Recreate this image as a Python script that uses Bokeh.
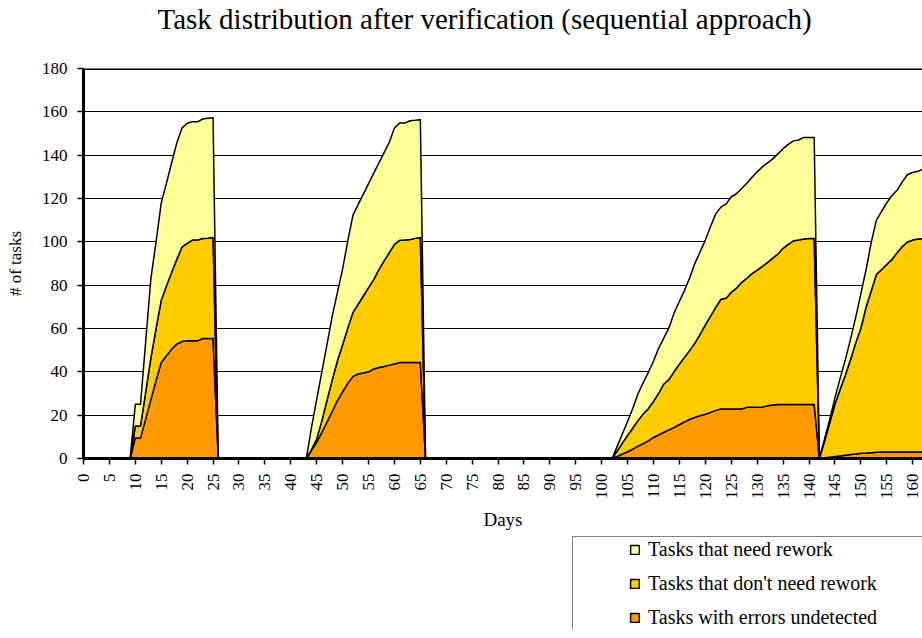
from math import pi
from bokeh.plotting import figure
from bokeh.layouts import column
from bokeh.models import (Range1d, Legend, LegendItem, SingleIntervalTicker, Span,
                          Title)
from bokeh.embed import file_html
from bokeh.resources import INLINE

# ---------------- data (days 0..162) ----------------
days = list(range(0, 163))

undetected = [
    0, 0, 0, 0, 0, 0, 0, 0, 0, 0,
    9.5, 9.5, 18.3, 27.2, 36, 44.3, 47.4, 50.5, 52.8, 54,
    54.3, 54.3, 54.3, 55.4, 55.4, 55.4, 0, 0, 0, 0,
    0, 0, 0, 0, 0, 0, 0, 0, 0, 0,
    0, 0, 0, 0, 3.9, 7.5, 12.1, 16.9, 21.8, 26.7,
    30.8, 34.7, 37.9, 39, 39.5, 40, 41.3, 42, 42.5, 43.1,
    43.6, 44.3, 44.3, 44.3, 44.3, 44.3, 0, 0, 0, 0,
    0, 0, 0, 0, 0, 0, 0, 0, 0, 0,
    0, 0, 0, 0, 0, 0, 0, 0, 0, 0,
    0, 0, 0, 0, 0, 0, 0, 0, 0, 0,
    0, 0, 0, 1, 2.1, 3.1, 4.3, 5.7, 6.9, 8.1,
    9.7, 10.9, 12.1, 13.2, 14.4, 15.7, 16.9, 18.1, 19, 19.8,
    20.4, 21.3, 22.2, 22.9, 22.9, 22.9, 22.9, 22.9, 23.6, 23.6,
    23.6, 23.7, 24.4, 24.7, 24.9, 24.9, 24.9, 24.9, 24.9, 24.9,
    24.9, 24.9, 0, 0.3, 0.6, 0.9, 1.2, 1.5, 1.8, 2.1,
    2.4, 2.5, 2.7, 2.9, 3, 3, 3, 3, 3, 3,
    3, 3, 3,
]

no_rework = [
    0, 0, 0, 0, 0, 0, 0, 0, 0, 0,
    5.5, 5.5, 12.5, 19.2, 24, 28.7, 32.2, 35.3, 39.1, 43.6,
    45, 46.5, 46.5, 46.1, 46.3, 46.6, 0, 0, 0, 0,
    0, 0, 0, 0, 0, 0, 0, 0, 0, 0,
    0, 0, 0, 0, 0.2, 1.5, 5.4, 10.1, 14.4, 18.4,
    21.7, 25.5, 29.5, 32.2, 35.5, 38.9, 41.3, 45.2, 48.7, 51.9,
    55.2, 56.4, 56.5, 56.8, 57.3, 57.7, 0, 0, 0, 0,
    0, 0, 0, 0, 0, 0, 0, 0, 0, 0,
    0, 0, 0, 0, 0, 0, 0, 0, 0, 0,
    0, 0, 0, 0, 0, 0, 0, 0, 0, 0,
    0, 0, 0, 2.5, 5.1, 7.6, 9.8, 11.8, 13.7, 14.9,
    16.7, 19.3, 22.3, 23.3, 25.8, 27.9, 29.9, 31.8, 34.4, 37.6,
    41.3, 44.4, 47.5, 50.6, 51.1, 53.8, 55.7, 58.4, 59.6, 61.7,
    63.3, 65, 66.1, 67.8, 69.5, 72.1, 73.9, 75.6, 75.9, 76.4,
    76.6, 76.6, 0, 7.7, 15.9, 24.1, 30.7, 36.9, 43.8, 51.2,
    57.6, 67.3, 74.6, 82, 84.2, 86.5, 88.8, 92, 94.8, 96.9,
    97.8, 98.3, 98.5,
]

rework = [
    0, 0, 0, 0, 0, 0, 0, 0, 0, 0,
    10, 10, 23.2, 36.6, 40, 45, 47.4, 50.6, 53.7, 54.9,
    55.4, 54.6, 54.6, 55.2, 55.3, 55.3, 0, 0, 0, 0,
    0, 0, 0, 0, 0, 0, 0, 0, 0, 0,
    0, 0, 0, 0, 10.3, 18.3, 22.5, 25.8, 29.5, 31.6,
    35, 40.2, 44.9, 46.1, 47, 48, 49.1, 49.2, 50, 50.9,
    53.7, 54.1, 54, 54.8, 54.5, 54.4, 0, 0, 0, 0,
    0, 0, 0, 0, 0, 0, 0, 0, 0, 0,
    0, 0, 0, 0, 0, 0, 0, 0, 0, 0,
    0, 0, 0, 0, 0, 0, 0, 0, 0, 0,
    0, 0, 0, 2.2, 4.2, 6.5, 9.1, 12.4, 14.4, 16.8,
    18.6, 20.8, 21.3, 24, 27.2, 29, 30.9, 33.6, 36.8, 38,
    39.1, 41.4, 43.2, 42.5, 43.4, 44.1, 43.6, 43.3, 43.8, 44.5,
    45.4, 45.9, 45.9, 45.8, 46.2, 46, 46.2, 46.1, 46.2, 46.9,
    46.7, 46.7, 0, 1, 1.5, 3, 5.1, 7.1, 9.4, 11.7,
    16, 17.2, 22.3, 25.1, 26.8, 28.5, 29.6, 28.8, 29.9, 31.2,
    31.2, 31.3, 31.9,
]

series_names = ["Tasks with errors undetected",
                "Tasks that don't need rework",
                "Tasks that need rework"]
series_values = [undetected, no_rework, rework]
series_colors = ["#FF9900", "#FFCC00", "#FFFF99"]

title_text = "Task distribution after verification (sequential approach)"
x_label = "Days"
y_label = "# of tasks"

SERIF = "Liberation Serif"


def stacked_polygons():
    """Closed polygons (x list, y list) for each stacked layer."""
    polys = []
    lower = [0.0] * len(days)
    for vals in series_values:
        upper = [a + b for a, b in zip(lower, vals)]
        polys.append((days + days[::-1], upper + lower[::-1]))
        lower = upper
    return polys


# ---------------- main chart ----------------
p = figure(width=922, height=533, output_backend="svg", toolbar_location=None,
           title=None,
           x_range=Range1d(0, 161.9), y_range=Range1d(0, 180),
           min_border_left=83, min_border_right=0, min_border_top=67,
           min_border_bottom=75)

# spacer between plot area and title, then the title itself
p.add_layout(Title(text=" ", text_font_size="12px", standoff=13.5), "above")
p.add_layout(Title(text=title_text, text_font=SERIF, text_font_size="29px",
                   text_font_style="normal", text_color="black",
                   align="left", offset=74, vertical_align="top", standoff=4),
             "above")

p.background_fill_color = "white"
p.border_fill_color = "white"
p.outline_line_color = None

for (xs, ys), color in zip(stacked_polygons(), series_colors):
    p.patch(xs, ys, fill_color=color, line_color="black", line_width=1.5,
            line_join="round")

# top border of the plot area
p.add_layout(Span(location=180, dimension="width", line_color="black",
                  line_width=3))

# grid
p.xgrid.visible = False
p.ygrid.grid_line_color = "black"
p.ygrid.grid_line_width = 1
p.ygrid.level = "underlay"

# axes
p.xaxis.ticker = SingleIntervalTicker(interval=5, num_minor_ticks=0)
p.yaxis.ticker = SingleIntervalTicker(interval=20, num_minor_ticks=0)
p.xaxis.major_label_orientation = pi / 2
for ax in (p.xaxis, p.yaxis):
    ax.axis_line_color = "black"
    ax.axis_line_width = 3
    ax.major_tick_line_color = "black"
    ax.major_tick_line_width = 1.5
    ax.major_tick_out = 6
    ax.major_tick_in = 0
    ax.minor_tick_line_color = None
    ax.major_label_text_font = SERIF
    ax.major_label_text_font_size = "17px"
    ax.major_label_text_color = "black"
    ax.axis_label_text_font = SERIF
    ax.axis_label_text_font_style = "normal"
    ax.axis_label_text_color = "black"
p.xaxis.major_label_standoff = 9
p.yaxis.major_label_standoff = 10
p.xaxis.axis_label = x_label
p.xaxis.axis_label_text_font_size = "19px"
p.xaxis.axis_label_standoff = 7
p.yaxis.axis_label = y_label
p.yaxis.axis_label_text_font_size = "17px"
p.yaxis.axis_label_standoff = 14

# ---------------- legend strip (below the chart) ----------------
leg = figure(width=922, height=96, output_backend="svg", toolbar_location=None,
             x_range=Range1d(0, 161.9), y_range=Range1d(0, 180),
             x_axis_type=None, y_axis_type=None, min_border=0)
leg.outline_line_color = None
leg.grid.visible = False
leg.background_fill_color = "white"
leg.border_fill_color = "white"

leg_renderers = []
for (xs, ys), color in zip(stacked_polygons(), series_colors):
    r = leg.patch(xs, ys, fill_color=color, line_color="black", line_width=1.5)
    r.visible = False
    leg_renderers.append(r)

items = [LegendItem(label=series_names[i], renderers=[leg_renderers[i]])
         for i in (2, 1, 0)]
legend = Legend(items=items, location=(489, -2), orientation="vertical",
                margin=0, padding=1, spacing=11,
                glyph_width=11, glyph_height=11, label_height=23,
                label_standoff=8, label_width=320,
                label_text_font=SERIF, label_text_font_size="20px",
                label_text_color="black",
                border_line_color="black", border_line_width=1,
                background_fill_color="white", background_fill_alpha=1,
                inactive_fill_alpha=0,
                title=" ", title_location="left", title_standoff=35,
                title_text_font_size="17px")
leg.add_layout(legend, "center")

layout = column(p, leg, spacing=0)
open("out.html", "w").write(file_html(layout, INLINE))
